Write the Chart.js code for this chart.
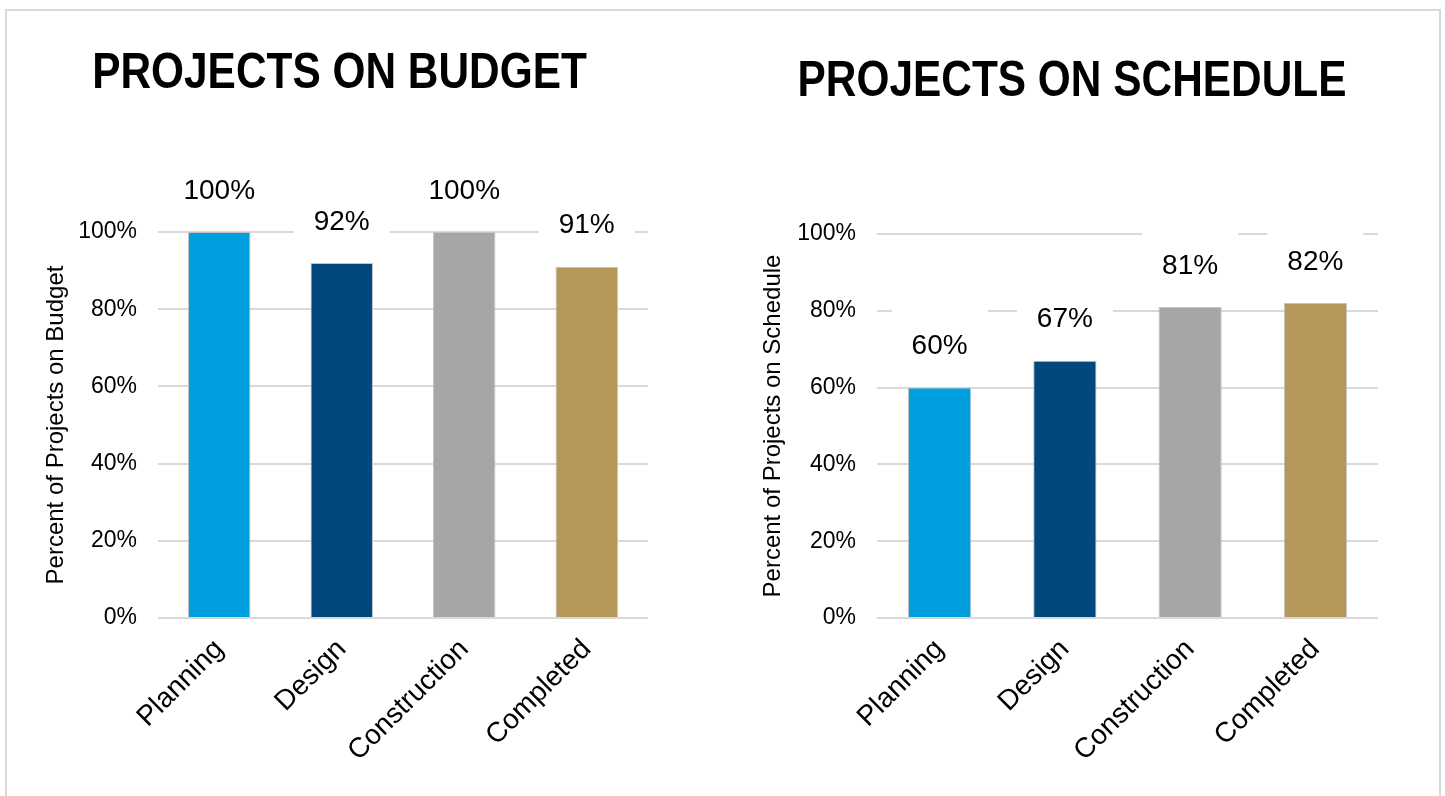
<!DOCTYPE html>
<html>
<head>
<meta charset="utf-8">
<script src="https://cdn.jsdelivr.net/npm/chart.js@4"></script>
<style>
  html, body { margin: 0; padding: 0; background: #fff; }
  body { width: 1445px; height: 796px; position: relative; overflow: hidden; }
  .frame { position: absolute; left: 5px; top: 9px; width: 1436px; height: 820px; border: 2px solid #d9d9d9; box-sizing: border-box; }
  .box { position: absolute; top: 0; height: 796px; }
  #budgetBox { left: 0; width: 679px; }
  #scheduleBox { left: 720px; width: 704px; }
</style>
</head>
<body>
<div class="frame"></div>
<div class="box" id="budgetBox"><canvas id="budget"></canvas></div>
<div class="box" id="scheduleBox"><canvas id="schedule"></canvas></div>
<script>
const phases = ['Planning', 'Design', 'Construction', 'Completed']
const onBudget = [100, 92, 100, 91]
const onSchedule = [60, 67, 81, 82]
const yTicks = [0, 20, 40, 60, 80, 100]
const barColors = ['#009fdf', '#00487d', '#a6a6a6', '#b5975a']

const FONT = '"Liberation Sans", Arial, sans-serif'

// white box behind each value label (like the office chart), then the text on top
const valueLabels = {
  id: 'valueLabels',
  beforeDatasetsDraw(chart) {
    const ctx = chart.ctx
    const meta = chart.getDatasetMeta(0)
    ctx.save()
    ctx.fillStyle = '#fff'
    meta.data.forEach(bar => {
      const cy = bar.y - 41
      ctx.fillRect(bar.x - 48, cy - 37, 96, 74)
    })
    ctx.restore()
  },
  afterDatasetsDraw(chart) {
    const ctx = chart.ctx
    const meta = chart.getDatasetMeta(0)
    const values = chart.data.datasets[0].data
    ctx.save()
    ctx.fillStyle = '#000'
    ctx.font = '28px ' + FONT
    ctx.textAlign = 'center'
    ctx.textBaseline = 'middle'
    meta.data.forEach((bar, i) => {
      ctx.fillText(values[i] + '%', bar.x, bar.y - 41)
    })
    ctx.restore()
  }
}

// condensed bold heading, squeezed sideways since no narrow font is around
const heading = {
  id: 'heading',
  afterDraw(chart, args, opts) {
    const ctx = chart.ctx
    ctx.save()
    ctx.translate(opts.x, opts.y)
    ctx.scale(0.848, 1)
    ctx.fillStyle = '#000'
    ctx.font = 'bold 50px ' + FONT
    ctx.textAlign = 'center'
    ctx.textBaseline = 'alphabetic'
    ctx.fillText(opts.text, 0, 0)
    ctx.restore()
  }
}

function makeChart(id, title, axisTitle, values, opts) {
  return new Chart(document.getElementById(id), {
    type: 'bar',
    data: {
      labels: phases,
      datasets: [{
        data: values,
        backgroundColor: barColors,
        borderColor: '#c4c4c4',
        borderWidth: 1,
        categoryPercentage: 1,
        barPercentage: opts.barPct
      }]
    },
    options: {
      responsive: true,
      maintainAspectRatio: false,
      animation: false,
      layout: { padding: { left: 0, right: opts.right, top: opts.top, bottom: 0 } },
      plugins: {
        legend: { display: false },
        tooltip: { enabled: false },
        title: { display: false },
        heading: { text: title, x: opts.titleX, y: opts.titleY }
      },
      scales: {
        x: {
          grid: { display: false },
          border: { display: false },
          ticks: {
            color: '#000',
            font: { family: FONT, size: 28 },
            minRotation: 45,
            maxRotation: 45,
            padding: 7
          },
          afterFit(scale) { scale.height = 178 }
        },
        y: {
          min: 0,
          max: 100,
          afterBuildTicks(scale) { scale.ticks = yTicks.map(v => ({ value: v })) },
          grid: { color: '#d9d9d9', lineWidth: 2, drawTicks: false },
          border: { display: false },
          ticks: {
            color: '#000',
            font: { family: FONT, size: 23 },
            padding: 21,
            callback: v => v + '%'
          },
          title: {
            display: true,
            text: axisTitle,
            color: '#000',
            font: { family: FONT, size: 24, lineHeight: 1.2 },
            padding: { top: opts.axisTitlePad, bottom: 0 }
          },
          afterFit(scale) { scale.width = opts.yWidth }
        }
      }
    },
    plugins: [valueLabels, heading]
  })
}

makeChart('budget', 'PROJECTS ON BUDGET', 'Percent of Projects on Budget', onBudget,
  { barPct: 0.51, right: 31, top: 232, titleX: 339.5, titleY: 88, axisTitlePad: 42, yWidth: 158 })
makeChart('schedule', 'PROJECTS ON SCHEDULE', 'Percent of Projects on Schedule', onSchedule,
  { barPct: 0.505, right: 46, top: 234, titleX: 352, titleY: 96, axisTitlePad: 39, yWidth: 157 })
</script>
</body>
</html>
